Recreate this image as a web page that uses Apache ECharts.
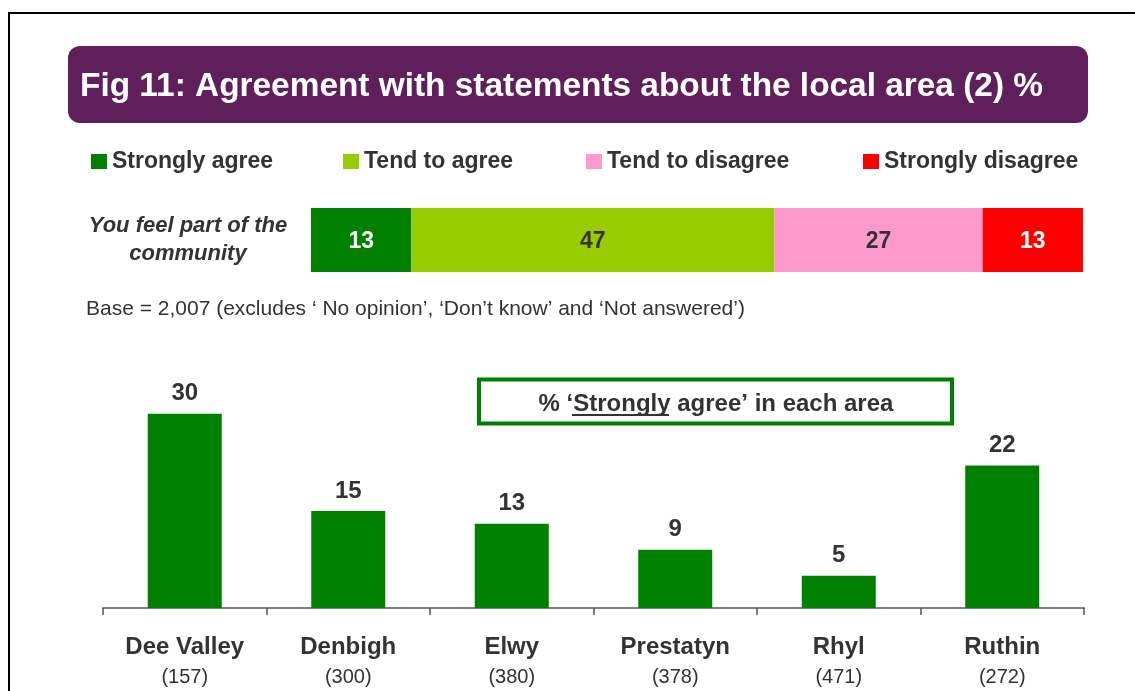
<!DOCTYPE html>
<html>
<head>
<meta charset="utf-8">
<title>Fig 11: Agreement with statements about the local area (2) %</title>
<script src="https://cdn.jsdelivr.net/npm/echarts@6/dist/echarts.min.js"></script>
<style>
  html, body { margin: 0; padding: 0; background: #fff; }
  #chart { width: 1135px; height: 691px; }
</style>
</head>
<body>
<div id="chart"></div>
<script>
// data
var agreeLevels = ['Strongly agree', 'Tend to agree', 'Tend to disagree', 'Strongly disagree'];
var agreeValues = [13, 47, 27, 13];
var statements = ['You feel part of the\ncommunity'];
var areas = ['Dee Valley', 'Denbigh', 'Elwy', 'Prestatyn', 'Rhyl', 'Ruthin'];
var areaBases = ['157', '300', '380', '378', '471', '272'];
var stronglyAgreeByArea = [30, 15, 13, 9, 5, 22];

var levelColors = ['#008000', '#99CC00', '#FF99CC', '#FF0000'];
var labelColors = ['#ffffff', '#333333', '#333333', '#ffffff'];
var legendLeft = [91, 343, 586, 863];
var font = '"Liberation Sans", Arial, sans-serif';

var chart = echarts.init(document.getElementById('chart'), null, {renderer: 'canvas'});

var legends = [];
for (var i = 0; i < agreeLevels.length; i++) {
    legends.push({
        data: [agreeLevels[i]],
        left: legendLeft[i],
        top: 150,
        padding: 0,
        icon: 'rect',
        itemWidth: 16,
        itemHeight: 15,
        itemGap: 5,
        selectedMode: false,
        textStyle: {color: '#333', fontSize: 23, fontWeight: 'bold', fontFamily: font}
    });
}

var series = [];
for (var j = 0; j < agreeLevels.length; j++) {
    series.push({
        name: agreeLevels[j],
        type: 'bar',
        stack: 'agree',
        xAxisIndex: 0,
        yAxisIndex: 0,
        barWidth: 64,
        itemStyle: {color: levelColors[j]},
        label: {
            show: true,
            position: 'inside',
            offset: [0, 2],
            color: labelColors[j],
            fontSize: 23,
            fontWeight: 'bold',
            fontFamily: font
        },
        data: [agreeValues[j]]
    });
}
series.push({
    name: '% Strongly agree',
    type: 'bar',
    xAxisIndex: 1,
    yAxisIndex: 1,
    barWidth: 74,
    itemStyle: {color: '#008000'},
    label: {
        show: true,
        position: 'top',
        distance: 8,
        color: '#333',
        fontSize: 24,
        fontWeight: 'bold',
        fontFamily: font
    },
    data: stronglyAgreeByArea
});

var option = {
    animation: false,
    backgroundColor: '#fff',
    textStyle: {fontFamily: font},
    legend: legends,
    grid: [
        {left: 311, right: 52, top: 208, height: 64},
        {left: 103, right: 51, top: 349, bottom: 83}
    ],
    xAxis: [
        {
            type: 'value', gridIndex: 0, min: 0, max: 100,
            show: false
        },
        {
            type: 'category', gridIndex: 1, data: areas,
            axisLine: {lineStyle: {color: '#808080', width: 2}},
            axisTick: {show: true, length: 7, lineStyle: {color: '#555', width: 1.5}},
            axisLabel: {
                margin: 25,
                interval: 0,
                formatter: function (v, idx) {
                    return '{a|' + v + '}\n{b|(' + areaBases[idx] + ')}';
                },
                rich: {
                    a: {fontSize: 24, fontWeight: 'bold', color: '#333', lineHeight: 28, fontFamily: font},
                    b: {fontSize: 20, color: '#333', lineHeight: 32, fontFamily: font}
                }
            }
        }
    ],
    yAxis: [
        {
            type: 'category', gridIndex: 0, data: statements,
            axisLine: {show: false},
            axisTick: {show: false},
            axisLabel: {
                margin: 123,
                align: 'center',
                color: '#333',
                fontSize: 22,
                fontStyle: 'italic',
                fontWeight: 'bold',
                lineHeight: 28,
                padding: [4, 0, 0, 0],
                fontFamily: font
            }
        },
        {
            type: 'value', gridIndex: 1, min: 0, max: 40,
            show: false
        }
    ],
    graphic: [
        // outer frame
        {
            type: 'polyline',
            shape: {points: [[9, 691], [9, 13], [1135, 13]]},
            style: {stroke: '#000', lineWidth: 2, fill: null}
        },
        // title banner
        {
            type: 'rect',
            shape: {x: 68, y: 46, width: 1020, height: 77, r: 12},
            style: {fill: '#5E1F5B'}
        },
        {
            type: 'text',
            left: 80, top: 70,
            style: {
                text: 'Fig 11: Agreement with statements about the local area (2) %',
                fill: '#fff', fontSize: 33.4, fontWeight: 'bold', fontFamily: font
            }
        },
        // base note
        {
            type: 'text',
            left: 86, top: 299,
            style: {
                text: 'Base = 2,007 (excludes \u2018 No opinion\u2019, \u2018Don\u2019t know\u2019 and \u2018Not answered\u2019)',
                fill: '#333', fontSize: 21, fontFamily: font
            }
        },
        // callout box
        {
            type: 'rect',
            shape: {x: 479, y: 379.5, width: 473, height: 44},
            style: {fill: '#fff', stroke: '#008000', lineWidth: 4}
        },
        {
            type: 'text',
            x: 716, y: 404,
            style: {
                text: '% \u2018Strongly agree\u2019 in each area',
                fill: '#333', fontSize: 24, fontWeight: 'bold', fontFamily: font,
                align: 'center', verticalAlign: 'middle'
            }
        },
        {
            type: 'line',
            shape: {x1: 572, y1: 415, x2: 669, y2: 415},
            style: {stroke: '#333', lineWidth: 2}
        }
    ],
    series: series
};
chart.setOption(option);
</script>
</body>
</html>
